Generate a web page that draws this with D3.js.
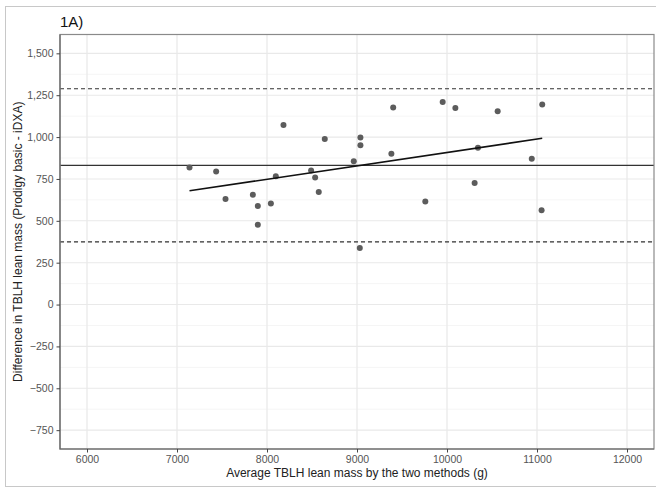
<!DOCTYPE html>
<html>
<head>
<meta charset="utf-8">
<script src="https://cdn.jsdelivr.net/npm/d3@7"></script>
<style>
  body { margin: 0; background: #fff; }
  svg { display: block; font-family: "Liberation Sans", Arial, sans-serif; }
</style>
</head>
<body>
<div id="chart"></div>
<script>
// Bland-Altman points: average of methods (g) and difference (Prodigy basic - iDXA)
const avgMass = [7139, 7435, 7539, 7843, 7898, 7898, 8043, 8098, 8183, 8490,
                 8535, 8575, 8642, 8964, 9031, 9038, 9038, 9382, 9402, 9759,
                 9952, 10093, 10307, 10344, 10563, 10942, 11051, 11058];
const diffMass = [819, 794, 630, 656, 588, 477, 604, 766, 1072, 800,
                  758, 672, 988, 855, 338, 998, 951, 901, 1177, 615,
                  1209, 1173, 726, 937, 1154, 871, 563, 1194];

const meanDiff = 831;
const loaUpper = 1289;
const loaLower = 374;

const xTicks = [6000, 7000, 8000, 9000, 10000, 11000, 12000];
const yTicks = [-750, -500, -250, 0, 250, 500, 750, 1000, 1250, 1500];

const margin = {top: 34.5, right: 2, bottom: 39, left: 60},
      W = 656, H = 488,
      width = W - margin.left - margin.right,
      height = H - margin.top - margin.bottom;

const root = d3.select("#chart").append("svg")
  .attr("width", W)
  .attr("height", H);

// outer frame of the figure
root.append("rect")
  .attr("x", 5.5).attr("y", 6.5)
  .attr("width", W).attr("height", H - 8)
  .attr("fill", "none")
  .attr("stroke", "#c8c8c8");

const svg = root.append("g")
  .attr("transform", `translate(${margin.left},${margin.top})`);

const x = d3.scaleLinear().domain([5700, 12300]).range([0, width]);
const y = d3.scaleLinear().domain([-862.5, 1612.5]).range([height, 0]);

// grid: minor then major
const xMinor = d3.range(5500, 12500, 1000).map(d => d + 1000).map(d => d - 500);
const yMinor = yTicks.map(d => d - 125).concat([1625]).filter(d => d > -862.5 && d < 1612.5);

svg.append("g").selectAll("line").data(xMinor).enter().append("line")
  .attr("x1", d => x(d)).attr("x2", d => x(d))
  .attr("y1", 0).attr("y2", height)
  .attr("stroke", "#f2f2f2").attr("stroke-width", 0.8);
svg.append("g").selectAll("line").data(yMinor).enter().append("line")
  .attr("y1", d => y(d)).attr("y2", d => y(d))
  .attr("x1", 0).attr("x2", width)
  .attr("stroke", "#f2f2f2").attr("stroke-width", 0.8);
svg.append("g").selectAll("line").data(xTicks).enter().append("line")
  .attr("x1", d => x(d)).attr("x2", d => x(d))
  .attr("y1", 0).attr("y2", height)
  .attr("stroke", "#e9e9e9").attr("stroke-width", 1.1);
svg.append("g").selectAll("line").data(yTicks).enter().append("line")
  .attr("y1", d => y(d)).attr("y2", d => y(d))
  .attr("x1", 0).attr("x2", width)
  .attr("stroke", "#e9e9e9").attr("stroke-width", 1.1);

// reference lines
svg.append("line")
  .attr("x1", 0).attr("x2", width)
  .attr("y1", y(meanDiff)).attr("y2", y(meanDiff))
  .attr("stroke", "#333").attr("stroke-width", 1.1);
[loaUpper, loaLower].forEach(v => {
  svg.append("line")
    .attr("x1", 0).attr("x2", width)
    .attr("y1", y(v)).attr("y2", y(v))
    .attr("stroke", "#333").attr("stroke-width", 1.1)
    .attr("stroke-dasharray", "4,3");
});

// points
svg.selectAll(".pt")
  .data(avgMass.map((d, i) => ({a: d, b: diffMass[i]})))
  .enter().append("circle")
  .attr("class", "pt")
  .attr("cx", d => x(d.a))
  .attr("cy", d => y(d.b))
  .attr("r", 3)
  .attr("fill", "#5c5c5c");

// least squares fit over data range
const mx = d3.mean(avgMass), my = d3.mean(diffMass);
const slope = d3.sum(avgMass, (d, i) => (d - mx) * (diffMass[i] - my)) /
              d3.sum(avgMass, d => (d - mx) * (d - mx));
const icpt = my - slope * mx;
const fitX = d3.extent(avgMass);
svg.append("path")
  .datum(fitX)
  .attr("d", d3.line().x(d => x(d)).y(d => y(icpt + slope * d)))
  .attr("stroke", "#111").attr("stroke-width", 1.6).attr("fill", "none");

// panel border
svg.append("rect")
  .attr("width", width).attr("height", height)
  .attr("fill", "none")
  .attr("stroke", "#8a8a8a").attr("stroke-width", 1.2);
svg.append("path")
  .attr("d", `M0,0V${height}H${width}`)
  .attr("fill", "none").attr("stroke", "#666").attr("stroke-width", 1.2);

// axes
const xAxis = svg.append("g")
  .attr("transform", `translate(0,${height})`)
  .call(d3.axisBottom(x).tickValues(xTicks).tickFormat(d3.format("d")).tickSize(3.5).tickPadding(3));
const yAxis = svg.append("g")
  .call(d3.axisLeft(y).tickValues(yTicks).tickFormat(d3.format(",")).tickSize(3.5).tickPadding(3));
[xAxis, yAxis].forEach(g => {
  g.select(".domain").remove();
  g.selectAll(".tick line").attr("stroke", "#444");
  g.selectAll(".tick text").attr("fill", "#555").style("font-size", "10.5px")
    .style("font-family", "'Liberation Sans', Arial, sans-serif");
});

// labels
root.append("text")
  .attr("x", 60).attr("y", 26.5)
  .style("font-size", "15px").attr("fill", "#111")
  .text("1A)");

root.append("text")
  .attr("x", margin.left + width / 2).attr("y", 477)
  .attr("text-anchor", "middle")
  .style("font-size", "12px").attr("fill", "#222")
  .text("Average TBLH lean mass by the two methods (g)");

root.append("text")
  .attr("transform", `translate(22,${margin.top + height / 2}) rotate(-90)`)
  .attr("text-anchor", "middle")
  .style("font-size", "12px").attr("fill", "#222")
  .text("Difference in TBLH lean mass (Prodigy basic - iDXA)");
</script>
</body>
</html>
